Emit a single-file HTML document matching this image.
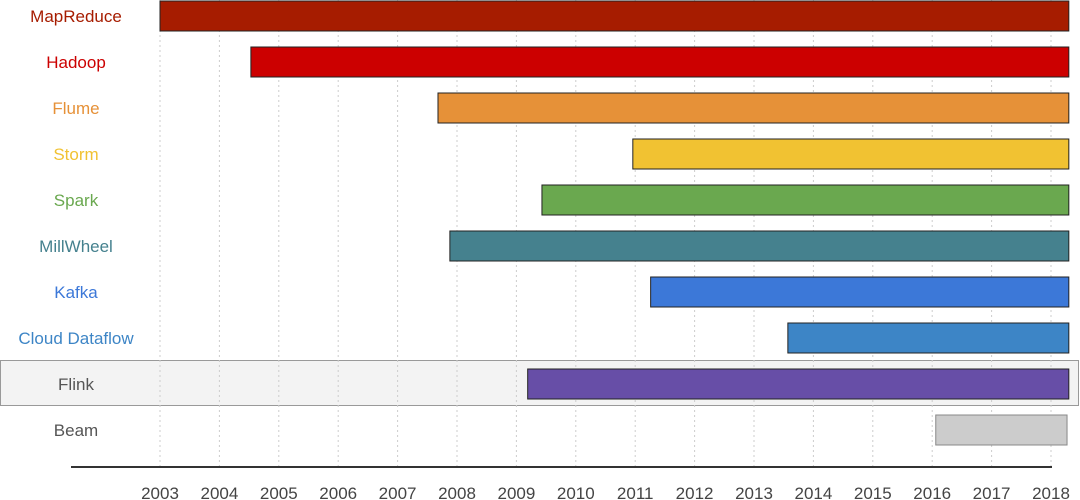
<!DOCTYPE html>
<html><head><meta charset="utf-8"><style>
body{margin:0;background:#fff;}
svg{display:block;font-family:"Liberation Sans",sans-serif;}
</style></head><body>
<svg id="chart" width="1080" height="500"></svg>
<script>
const categories=["MapReduce","Hadoop","Flume","Storm","Spark","MillWheel","Kafka","Cloud Dataflow","Flink","Beam"];
const startYears=[2003.0,2004.53,2007.68,2010.96,2009.43,2007.88,2011.26,2013.57,2009.19,2016.06];
const endYears=[2018.3,2018.3,2018.3,2018.3,2018.3,2018.3,2018.3,2018.3,2018.3,2018.27];
const barColors=["#a61c00","#cc0000","#e69138","#f1c232","#6aa84f","#45818e","#3c78d8","#3d85c6","#674ea7","#cccccc"];
const labelColors=["#a61c00","#cc0000","#e69138","#f1c232","#6aa84f","#45818e","#3c78d8","#3d85c6","#555555","#555555"];
const tickYears=[2003,2004,2005,2006,2007,2008,2009,2010,2011,2012,2013,2014,2015,2016,2017,2018];
const NS="http://www.w3.org/2000/svg";
const svg=document.getElementById('chart');
const x=v=>160+(v-2003)*(1051-160)/15;
const yc=i=>16+i*46;
function mk(t,a){const e=document.createElementNS(NS,t);for(const k in a)e.setAttribute(k,a[k]);svg.appendChild(e);return e;}
let hl=mk('rect',{x:0.5,y:360.5,width:1078,height:45,fill:'#f3f3f3',stroke:'#999'});


tickYears.forEach(t=>{
  let g=mk('line',{x1:x(t),x2:x(t),y1:0,y2:467,stroke:'#ccc','stroke-dasharray':'2,3'});
  
  
  let l=mk('text',{x:x(t),y:499,'text-anchor':'middle','font-size':17,fill:'#444'});
  l.textContent=t;
  
  
});
let ax=mk('line',{x1:71,x2:1052,y1:467,y2:467,stroke:'#333','stroke-width':2});


categories.forEach((c,i)=>{
  let b=mk('rect',{x:x(startYears[i]),y:yc(i)-15,width:x(endYears[i])-x(startYears[i]),height:30,fill:barColors[i],stroke:i==9?'#888':'#222','stroke-width':1});
  
  
  let l=mk('text',{x:76,y:yc(i)+6,'text-anchor':'middle','font-size':17,fill:labelColors[i]});
  l.textContent=c;
  
  
});
</script>
</body></html>
